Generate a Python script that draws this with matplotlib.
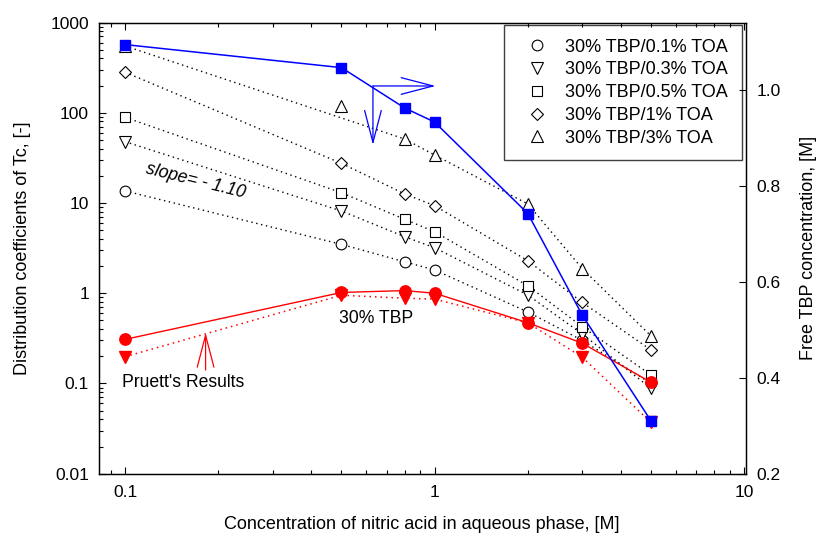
import matplotlib
matplotlib.use("Agg")
import matplotlib.pyplot as plt
from matplotlib.ticker import FuncFormatter, LogLocator, FixedLocator
import numpy as np

plt.rcParams['font.family'] = ['Liberation Sans', 'DejaVu Sans']

# nitric acid concentration [M]
hno3 = [0.1, 0.5, 0.8, 1, 2, 3, 5]

# distribution coefficients of Tc, 30% TBP with various TOA
toa_01 = [13.6, 3.48, 2.23, 1.81, 0.62, 0.30, 0.10]
toa_03 = [47.8, 8.15, 4.23, 3.19, 0.955, 0.353, 0.088]
toa_05 = [89, 13.0, 6.6, 4.8, 1.21, 0.425, 0.124]
toa_1 = [281, 27.5, 12.6, 9.33, 2.29, 0.79, 0.235]
toa_3 = [550, 119, 51.2, 34.0, 9.75, 1.87, 0.336]
# the 0.5 M point of the 3% TOA series is left off its dotted line
toa_3_line = [0, 2, 3, 4, 5, 6]

# 30% TBP alone, this work and Pruett
tbp30 = [0.308, 1.02, 1.07, 1.0, 0.471, 0.279, 0.103]
pruett = [0.198, 0.95, 0.88, 0.86, 0.47, 0.195, 0.037]

# free TBP concentration [M] (right axis)
free_tbp = [1.094, 1.046, 0.962, 0.9325, 0.742, 0.530, 0.310]

labels = ['30% TBP/0.1% TOA', '30% TBP/0.3% TOA', '30% TBP/0.5% TOA',
          '30% TBP/1% TOA', '30% TBP/3% TOA']
series = [toa_01, toa_03, toa_05, toa_1, toa_3]
markers = ['o', 'v', 's', 'D', '^']
msizes = [7.7, 8.2, 7.2, 6.6, 8.2]

fig = plt.figure(figsize=(8.22, 5.45), dpi=100)
ax = fig.add_axes([0.1201, 0.1308, 0.7869, 0.8279])

dots = (0, (1, 2.6))
for ys, m, ms, lab in zip(series, markers, msizes, labels):
    if ys is toa_3:
        xs_l = [hno3[k] for k in toa_3_line]
        ys_l = [ys[k] for k in toa_3_line]
    else:
        xs_l, ys_l = hno3, ys
    ax.plot(xs_l, ys_l, color='black', lw=1.0, linestyle=dots, zorder=2)
    ax.plot(hno3, ys, linestyle='none', marker=m, ms=ms, mfc='white',
            mec='black', mew=0.8, label=lab, zorder=3)

ax.plot(hno3, pruett, color='red', lw=1.1, linestyle=dots, marker='v',
        ms=8.5, mfc='red', mec='red', zorder=4)
ax.plot(hno3, tbp30, color='red', lw=1.0, marker='o', ms=8.2,
        mfc='red', mec='red', zorder=5)

ax.set_xscale('log')
ax.set_yscale('log')
ax.set_xlim(0.0822, 10.1)
ax.set_ylim(0.01, 1000)

fmt = FuncFormatter(lambda v, p: '%g' % v)
ax.xaxis.set_major_formatter(fmt)
ax.yaxis.set_major_formatter(fmt)
ax.yaxis.set_major_locator(LogLocator(base=10, numticks=100))
ax.yaxis.set_minor_locator(LogLocator(base=10, subs=np.arange(2, 10), numticks=100))
ax.tick_params(which='both', direction='in', top=True, right=False,
               labelsize=12.5, width=0.8)
ax.tick_params(which='major', length=5)
ax.tick_params(which='minor', length=3)
ax.tick_params(axis='x', pad=8)
ax.tick_params(axis='y', pad=7)

ax.set_xlabel('Concentration of nitric acid in aqueous phase, [M]',
              fontsize=13, labelpad=12)
ax.set_ylabel('Distribution coefficients of Tc, [-]', fontsize=13, labelpad=14)

# annotations
ax.text(0.169, 17.5, 'slope= - 1.10', fontsize=12.7, style='italic',
        rotation=-14, ha='center', va='center')
ax.text(0.647, 0.527, '30% TBP', fontsize=12.7, ha='center', va='center')
ax.text(0.098, 0.102, "Pruett's Results", fontsize=12.7, ha='left', va='center')

red_head = dict(arrowstyle='->,head_length=23,head_width=6', color='red',
                lw=0.9, mutation_scale=1, shrinkA=0, shrinkB=0)
ax.annotate('', xy=(0.182, 0.365), xytext=(0.182, 0.141), arrowprops=red_head)

blue_head = dict(arrowstyle='->,head_length=23,head_width=6', color='blue',
                 lw=0.9, mutation_scale=1, shrinkA=0, shrinkB=0)
ax.annotate('', xy=(1.007, 198), xytext=(0.632, 198), arrowprops=blue_head)
ax.annotate('', xy=(0.632, 44), xytext=(0.632, 198), arrowprops=blue_head)

leg = ax.legend(loc='upper right', bbox_to_anchor=(0.994, 0.9945),
                borderaxespad=0, fontsize=13, fancybox=False, framealpha=1,
                edgecolor='#404040', handlelength=2.2, handletextpad=0.45,
                labelspacing=0.32, borderpad=0.75)
leg.get_frame().set_linewidth(1.0)
leg.set_zorder(1)

# right axis: free TBP
ax2 = ax.twinx()
ax2.plot(hno3, free_tbp, color='blue', lw=1.1, marker='s', ms=7.5,
         mfc='blue', mec='blue')
ax2.set_ylim(0.2, 1.14)
ax2.yaxis.set_major_locator(FixedLocator([0.2, 0.4, 0.6, 0.8, 1.0]))
ax2.yaxis.set_major_formatter(FuncFormatter(lambda v, p: '%.1f' % v))
ax2.tick_params(direction='in', length=5, width=0.8, labelsize=12.5, pad=8)
ax2.set_ylabel('Free TBP concentration, [M]', fontsize=13, labelpad=14)

for a in (ax, ax2):
    for s in a.spines.values():
        s.set_linewidth(0.9)

fig.savefig('out.png', dpi=100)
